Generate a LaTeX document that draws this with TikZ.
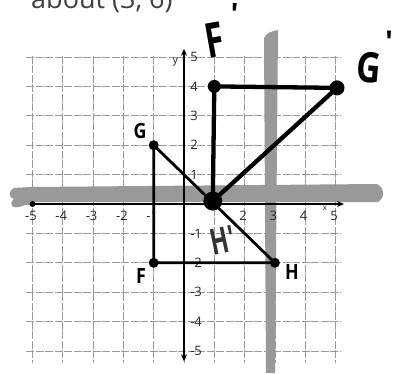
\documentclass[tikz,border=0pt]{standalone}
\usepackage{fontspec}
\setsansfont{Open Sans}
\usetikzlibrary{arrows.meta}
\begin{document}
\begin{tikzpicture}[x=1pt,y=-1pt,
  gridline/.style={draw=black!40, line width=0.7pt, dash pattern=on 8pt off 1.5pt},
  hl/.style={fill=black!40},
  axisline/.style={line width=1.3pt},
  tri/.style={line width=2.8pt, line cap=round, line join=round},
  img/.style={line width=4.3pt, line cap=round, line join=round},
  vdot/.style={circle, fill=black, inner sep=0pt, minimum size=#1},
  vdot/.default=10pt,
  ticklab/.style={font=\sffamily\fontsize{13}{13}\selectfont, text=black!85, inner sep=0pt},
  ptlab/.style={font=\sffamily\bfseries\fontsize{21}{21}\selectfont, inner sep=0pt},
  hand/.style={font=\sffamily\bfseries\fontsize{48}{48}\selectfont, inner sep=0pt}
]
\useasboundingbox (0,0) rectangle (394,373);
\fill[white] (0,0) rectangle (394,373);

% top text (cut off)
\node[anchor=base west, font=\sffamily\fontsize{27}{27}\selectfont, text=black!75, inner sep=0pt] (title) at (31,8) {about (3, 6)};

\begin{scope}[shift={(184,204)}, x=30.3pt, y=29.4pt]
  % grid
  \foreach \i in {-5,...,5} {
    \draw[gridline] (\i,5.05) -- (\i,-5.4);
  }
  \foreach \j in {-5,...,5} {
    \draw[gridline] (-5.2,\j) -- (5.15,\j);
  }
\end{scope}

% highlighter bands
\fill[hl] (14,188) .. controls (8,192) and (8,197) .. (14,199)
  .. controls (8,204) and (12,210) .. (22,206) -- (36,202) -- (378,202)
  .. controls (385,198) and (385,188) .. (377,184) -- (30,187) -- cycle;
\fill[hl] (264,38) .. controls (266,33) and (272,31) .. (278,30)
  -- (275,373) -- (266,373) -- cycle;

\begin{scope}[shift={(184,204)}, x=30.3pt, y=29.4pt]
  % axes
  \coordinate (xl) at (-5,0);
  \coordinate (xr) at (5.28,0);
  \coordinate (yb) at (0,-5.35);
  \coordinate (yt) at (0,5.28);
  \draw[axisline, -{Stealth[length=7pt,width=6pt]}] (xl) -- (xr);
  \draw[axisline, {Stealth[length=7pt,width=6pt]}-{Stealth[length=7pt,width=6pt]}] (yb) -- (yt);
  \node[vdot=6pt] (xld) at (xl) {};

  % tick labels
  \foreach \i in {-5,-4,-3,-2,-1,2,3,4,5} {
    \node[ticklab] (tx\i) at (\i-0.05,-0.4) {\i};
  }
  \node[ticklab, font=\sffamily\fontsize{8}{8}\selectfont] (xlab) at (4.65,-0.16) {x};
  \foreach \j in {5,4,3,2,1,-1,-2,-3,-4,-5} {
    \node[ticklab, anchor=west] (ty\j) at (0.2,\j) {\j};
  }
  \node[ticklab, font=\sffamily\fontsize{11}{11}\selectfont] (ylab) at (-0.28,4.85) {y};

  % points
  \coordinate (F) at (-1,-2);
  \coordinate (G) at (-1,2);
  \coordinate (H) at (3,-2);
  \coordinate (Fp) at (1,4);
  \coordinate (Gp) at (5.05,3.95);
  \coordinate (Hp) at (0.95,0.1);

  \draw[tri] (F) -- (G) -- (H) -- cycle;
  \draw[img] (Hp) -- (Fp) -- (Gp) -- cycle;

  \node[vdot=10pt] (dF) at (F) {};
  \node[vdot=10pt] (dG) at (G) {};
  \node[vdot=10pt] (dH) at (H) {};
  \node[vdot=13pt] (dFp) at (Fp) {};
  \node[vdot=15pt] (dGp) at (Gp) {};
  \node[vdot=19pt] (dHp) at (Hp) {};
\end{scope}

% point labels
\node[ptlab] (lG) at (140,131) {\scalebox{0.85}[1]{G}};
\node[ptlab] (lF) at (141,276) {\scalebox{0.85}[1]{F}};
\node[ptlab] (lH) at (292,272) {\scalebox{0.85}[1]{H}};

% handwritten labels
\node[hand, rotate=10] (lFp) at (215,40) {\scalebox{0.7}[1]{F}};
\node[hand, font=\sffamily\bfseries\fontsize{30}{30}\selectfont, rotate=-5] (lFpp) at (234,14) {\textquotesingle};
\node[hand, font=\sffamily\bfseries\fontsize{42}{42}\selectfont, rotate=-5] (lGp) at (369,68) {\scalebox{0.8}[1]{G}};
\node[hand, font=\sffamily\bfseries\fontsize{30}{30}\selectfont] (lGpp) at (389,42) {\textquotesingle};
\node[hand, font=\sffamily\bfseries\fontsize{36}{36}\selectfont, text=black!80, rotate=12] (lHp) at (223,240) {\scalebox{0.65}[1]{H\textquotesingle}};
\end{tikzpicture}
\end{document}
